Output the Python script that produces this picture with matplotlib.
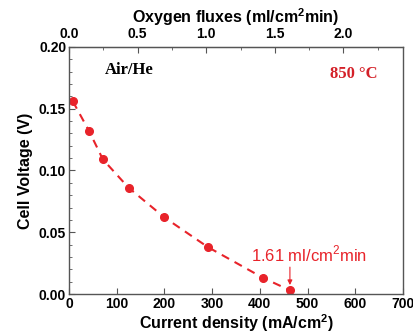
import matplotlib
matplotlib.use("Agg")
import matplotlib.pyplot as plt
from matplotlib.ticker import MultipleLocator, FixedLocator, FormatStrFormatter

current = [8, 42, 71, 125, 200, 291, 407, 463]
voltage = [0.156, 0.132, 0.109, 0.086, 0.062, 0.038, 0.013, 0.003]
flux_ticks = [0.0, 0.5, 1.0, 1.5, 2.0]
flux_minor = [0.25, 0.75, 1.25, 1.75, 2.25]
flux_per_current = 1.61 / 463

red = "#e8232a"
grey = "#555555"

plt.rcParams["font.family"] = ["Arial", "Liberation Sans", "DejaVu Sans"]
plt.rcParams["font.weight"] = "bold"

fig = plt.figure(figsize=(4.14, 3.34), dpi=100)
ax = fig.add_axes([69 / 414, 1 - 294 / 334, 334 / 414, 247 / 334])

ax.plot(current, voltage, "--", color=red, lw=1.5, dashes=(4, 3))
ax.plot(current, voltage, "o", color=red, ms=5.5)

ax.set_xlim(0, 700)
ax.set_ylim(0, 0.20)
ax.xaxis.set_major_locator(MultipleLocator(100))
ax.yaxis.set_major_locator(MultipleLocator(0.05))
ax.yaxis.set_minor_locator(MultipleLocator(0.01))
ax.tick_params(direction="in", length=4, color=grey, labelsize=10, pad=2)
ax.tick_params(which="minor", direction="in", length=2.5, color=grey)
ax.tick_params(axis="x", top=False)
ax.tick_params(axis="y", right=False, which="both")
for s in ax.spines.values():
    s.set_color(grey)
    s.set_linewidth(1.0)
ax.yaxis.set_major_formatter(FormatStrFormatter("%.2f"))
for lab in ax.get_xticklabels() + ax.get_yticklabels():
    lab.set_fontweight("bold")

ax.set_xlabel("Current density (mA/cm$^\\mathregular{2}$)", fontsize=11.5,
              fontweight="bold", labelpad=1)
ax.set_ylabel("Cell Voltage (V)", fontsize=11.5, fontweight="bold", labelpad=4)

top = ax.secondary_xaxis("top", functions=(lambda x: x * flux_per_current,
                                           lambda f: f / flux_per_current))
top.xaxis.set_major_locator(FixedLocator(flux_ticks))
top.xaxis.set_minor_locator(FixedLocator(flux_minor))
top.xaxis.set_major_formatter(FormatStrFormatter("%.1f"))
top.tick_params(direction="in", length=4, color=grey, labelsize=10, pad=4)
top.tick_params(which="minor", direction="in", length=2.5, color=grey)
top.spines["top"].set_color(grey)
for lab in top.get_xticklabels():
    lab.set_fontweight("bold")
top.set_xlabel("Oxygen fluxes (ml/cm$^\\mathregular{2}$min)", fontsize=11.5,
               fontweight="bold", labelpad=3)

ax.text(0.108, 0.905, "Air/He", transform=ax.transAxes, fontsize=12,
        fontweight="bold", family=["Liberation Serif", "DejaVu Serif"],
        va="center")
ax.text(0.925, 0.89, "850 °C", transform=ax.transAxes,
        fontsize=12, fontweight="bold", color="#d42028",
        family=["Liberation Serif", "DejaVu Serif"], ha="right", va="center")

ax.annotate("", xy=(current[-1], 0.005), xytext=(current[-1], 0.024),
            arrowprops=dict(arrowstyle="-|>", color=red, lw=0.8,
                            mutation_scale=7))
ax.text(503, 0.032, "1.61 ml/cm$^\\mathregular{2}$min",
        color=red, fontsize=12, fontweight="normal", ha="center",
        va="center")

fig.savefig("out.png", dpi=100)
